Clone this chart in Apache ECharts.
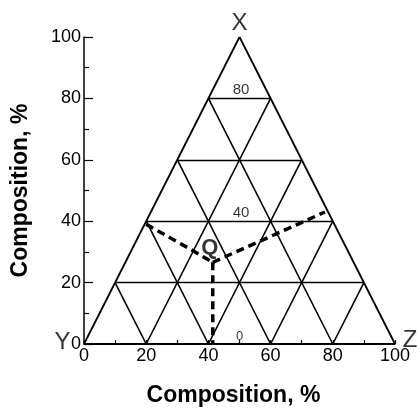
<!DOCTYPE html>
<html>
<head>
<meta charset="utf-8">
<script src="https://cdn.jsdelivr.net/npm/echarts@6/dist/echarts.min.js"></script>
<style>html,body{margin:0;padding:0;background:#fff}#c{width:417px;height:412px}</style>
</head>
<body>
<div id="c"></div>
<script>
// ---- data ----
const vertexNames = ['X', 'Y', 'Z'];
const vertexX = [50, 0, 100];
const vertexY = [100, 0, 0];
const gridLevels = [20, 40, 60, 80];
const levelLabels = ['80', '40', '0'];
const levelLabelX = [50.5, 50.5, 50];
const levelLabelY = [80, 40, 0];
const qPoint = [41.4, 26.6];
const dashLeft = [[20, 39], [34, 31], [41.4, 26.6]];
const dashRight = [[41.4, 26.6], [77.5, 43]];
const dashDown = [[41.4, 26.6], [41.4, 0]];
const axisTitle = 'Composition, %';

// ---- build triangle grid segments ----
const FONT = 'Liberation Sans, Arial, Helvetica, sans-serif';
const outline = [];
for (let i = 0; i < 3; i++) {
  const j = (i + 1) % 3;
  outline.push({ coords: [[vertexX[i], vertexY[i]], [vertexX[j], vertexY[j]]] });
}
const horiz = gridLevels.map(h => ({ coords: [[h / 2, h], [100 - h / 2, h]] }));
const diag = [];
gridLevels.forEach(b => {
  diag.push({ coords: [[b, 0], [50 + b / 2, 100 - b]] });
  diag.push({ coords: [[b, 0], [b / 2, b]] });
});

const vertexOffsets = [[0, -13.5], [-21.5, -2], [15, -4]];
const vertexData = vertexNames.map((n, i) => ({
  value: [vertexX[i], vertexY[i]], name: n,
  label: { offset: vertexOffsets[i] }
}));
const levelData = levelLabels.map((t, i) => ({
  value: [levelLabelX[i], levelLabelY[i]], name: t,
  label: i === 2 ? { fontSize: 13 } : {}
}));

const chart = echarts.init(document.getElementById('c'), null, { renderer: 'canvas' });
chart.setOption({
  animation: false,
  backgroundColor: '#fff',
  grid: { left: 84, right: 22, top: 37, bottom: 64 },
  xAxis: {
    type: 'value', min: 0, max: 100, interval: 10,
    axisLine: { lineStyle: { color: '#000', width: 1.5 } },
    axisTick: { inside: true, length: 4, lineStyle: { color: '#000', width: 1.2 } },
    axisLabel: { interval: 1, margin: 3, color: '#000', fontSize: 18, fontFamily: FONT,
      formatter: v => (v % 20 === 0 ? String(v) : '') },
    splitLine: { show: false },
    name: axisTitle, nameLocation: 'middle', nameGap: 40,
    nameTextStyle: { fontSize: 23, fontWeight: 'bold', color: '#000', fontFamily: FONT, padding: [0, 12, 0, 0] }
  },
  yAxis: {
    type: 'value', min: 0, max: 100, interval: 20,
    axisLine: { show: true, lineStyle: { color: '#000', width: 1.5 } },
    axisTick: { inside: true, length: 9, lineStyle: { color: '#000', width: 1.2 } },
    minorTick: { show: true, splitNumber: 2, length: 5, lineStyle: { color: '#000', width: 1.2 } },
    axisLabel: { margin: 3, color: '#000', fontSize: 18, fontFamily: FONT },
    splitLine: { show: false },
    name: axisTitle, nameLocation: 'middle', nameGap: 52,
    nameTextStyle: { fontSize: 23, fontWeight: 'bold', color: '#000', fontFamily: FONT }
  },
  series: [
    { type: 'lines', coordinateSystem: 'cartesian2d', data: outline, silent: true,
      lineStyle: { color: '#000', width: 1.8, opacity: 1 } },
    { type: 'lines', coordinateSystem: 'cartesian2d', data: diag, silent: true,
      lineStyle: { color: '#000', width: 1.6, opacity: 1 } },
    { type: 'lines', coordinateSystem: 'cartesian2d', data: horiz, silent: true,
      lineStyle: { color: '#000', width: 1.3, opacity: 1 } },
    { type: 'line', data: dashLeft, symbol: 'none', silent: true,
      lineStyle: { color: '#000', width: 3.5, type: [8, 5] } },
    { type: 'line', data: dashRight, symbol: 'none', silent: true,
      lineStyle: { color: '#000', width: 3.5, type: [8, 5] } },
    { type: 'line', data: dashDown, symbol: 'none', silent: true,
      lineStyle: { color: '#000', width: 3.5, type: [8, 5] } },
    { type: 'scatter', data: vertexData, symbolSize: 0, silent: true,
      label: { show: true, position: 'inside', formatter: p => p.name, color: '#000',
        fontSize: 24, fontFamily: FONT } },
    { type: 'scatter', data: levelData, symbolSize: 0, silent: true,
      label: { show: true, position: 'top', distance: 1, formatter: p => p.name, color: '#000',
        fontSize: 15, fontFamily: FONT } },
    { type: 'scatter', data: [{ value: qPoint, name: 'Q' }], symbolSize: 0, silent: true,
      label: { show: true, position: 'inside', offset: [-3, -14.6], formatter: 'Q', color: '#000',
        fontSize: 22, fontWeight: 'bold', fontFamily: FONT } }
  ]
});
</script>
</body>
</html>
